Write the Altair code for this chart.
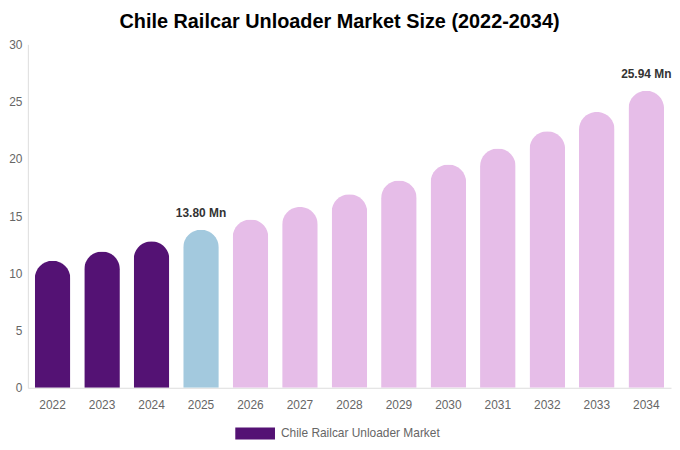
import altair as alt
import pandas as pd

years = ["2022", "2023", "2024", "2025", "2026", "2027", "2028", "2029", "2030", "2031", "2032", "2033", "2034"]
values = [11.1, 11.9, 12.8, 13.80, 14.7, 15.8, 16.9, 18.1, 19.5, 20.9, 22.4, 24.1, 25.94]
phases = ["hist", "hist", "hist", "base", "fc", "fc", "fc", "fc", "fc", "fc", "fc", "fc", "fc"]
labels = ["", "", "", "13.80 Mn", "", "", "", "", "", "", "", "", "25.94 Mn"]
series_name = "Chile Railcar Unloader Market"

df = pd.DataFrame({"year": years, "value": values, "phase": phases, "label": labels})

FONT = "Liberation Sans"

x = alt.X("year:N", sort=years, title=None,
          scale=alt.Scale(paddingInner=0.28, paddingOuter=0.14),
          axis=alt.Axis(labelAngle=0, ticks=False, labelPadding=12, labelFontSize=12,
                        labelColor="#666666", domainColor="#dddddd", labelFont=FONT))
y = alt.Y("value:Q", title=None,
          scale=alt.Scale(domain=[0, 30], nice=False),
          axis=alt.Axis(values=[0, 5, 10, 15, 20, 25, 30], ticks=False, grid=False,
                        labelPadding=6, labelFontSize=12, labelColor="#666666",
                        domainColor="#dddddd", labelFont=FONT))

bars = alt.Chart(df).mark_bar(cornerRadiusTopLeft=18, cornerRadiusTopRight=18).encode(
    x=x, y=y,
    color=alt.Color("phase:N",
                    scale=alt.Scale(domain=["hist", "base", "fc"],
                                    range=["#541274", "#a3c9de", "#e6bde8"]),
                    legend=alt.Legend(title=None, values=["hist"],
                                      labelExpr="'" + series_name + "'",
                                      orient="none", legendX=209, legendY=372,
                                      symbolType="M-1,-0.3H1V0.3H-1Z", symbolSize=1600,
                                      symbolStrokeWidth=0, symbolOpacity=1,
                                      labelFontSize=12, labelColor="#666666", labelFont=FONT,
                                      labelOffset=6, labelLimit=400, padding=0)),
)

text = alt.Chart(df).transform_filter("datum.label != ''").mark_text(
    baseline="bottom", dy=-10, fontSize=12, fontWeight="bold", color="#333333", font=FONT
).encode(x=alt.X("year:N", sort=years), y="value:Q", text="label:N")

chart = alt.layer(bars, text).properties(
    width=648, height=346,
    padding={"left": 0, "right": 0, "top": 3, "bottom": 0},
    title=alt.TitleParams("Chile Railcar Unloader Market Size (2022-2034)", fontSize=20,
                          fontWeight="bold", color="#000000", font=FONT, offset=6,
                          anchor="middle", dx=-10),
).configure_view(stroke=None)

chart.save("out.html", embed_options={"renderer": "svg", "actions": False})
